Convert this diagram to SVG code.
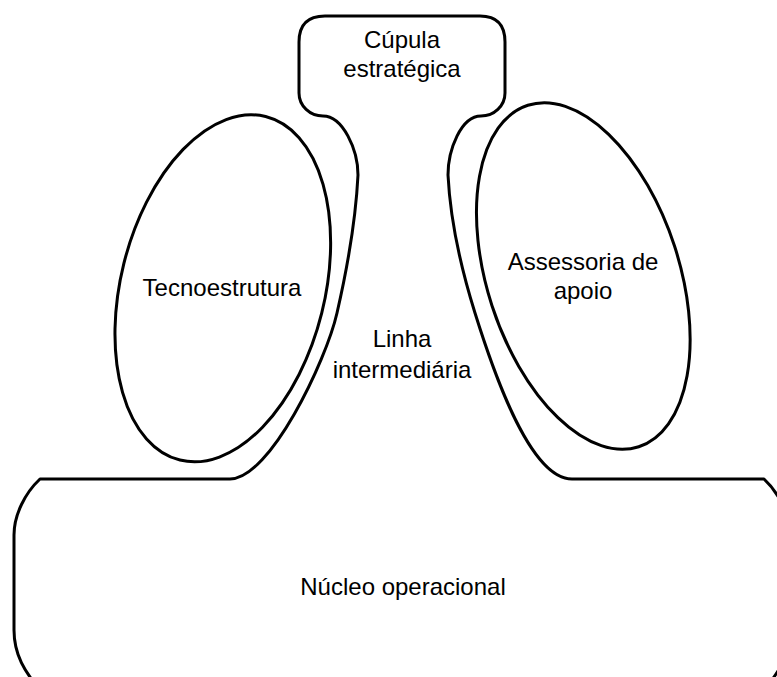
<svg xmlns="http://www.w3.org/2000/svg" width="777" height="677" viewBox="0 0 777 677">
<style>
.ln{fill:none;stroke:#000;stroke-width:3;stroke-linejoin:round;stroke-linecap:round}
text{font-family:"Liberation Sans",Arial,sans-serif;font-size:24px;fill:#000;text-anchor:middle}
</style>
<rect width="777" height="677" fill="#fff"/>
<g id="connectors">
<path class="ln" d="M40,690 C25,672 14,655 14,630 L14,535 C14,515 25,493 40,479 L230,479 C270,479 326,361 337,313 C348,265 356,215 358,175 C358,150 343,116 323,116 C310,116 299,106 299,93 L299,42 Q299,16 325,16 L480,16 Q505,16 505,42 L505,93 C505,106 494,116 481,116 C461,116 448,150 448,175 C450,215 460,265 475,313 C490,361 528,479 572,479 L764,479 C779,493 790,515 790,535 L790,630 C790,655 779,672 764,690"/>
</g>
<g id="cupula">
<text x="402" y="48">Cúpula</text>
<text x="402" y="77">estratégica</text>
</g>
<g id="tecnoestrutura">
<ellipse class="ln" cx="0" cy="0" rx="102" ry="177" transform="translate(222.8,288.3) rotate(14)"/>
<text x="222" y="296">Tecnoestrutura</text>
</g>
<g id="assessoria">
<ellipse class="ln" cx="0" cy="0" rx="96" ry="179.5" transform="translate(583.3,276) rotate(-18)"/>
<text x="583" y="270">Assessoria de</text>
<text x="583" y="299">apoio</text>
</g>
<g id="linha">
<text x="402" y="347">Linha</text>
<text x="402" y="378">intermediária</text>
</g>
<g id="nucleo">
<text x="403" y="595">Núcleo operacional</text>
</g>
</svg>
